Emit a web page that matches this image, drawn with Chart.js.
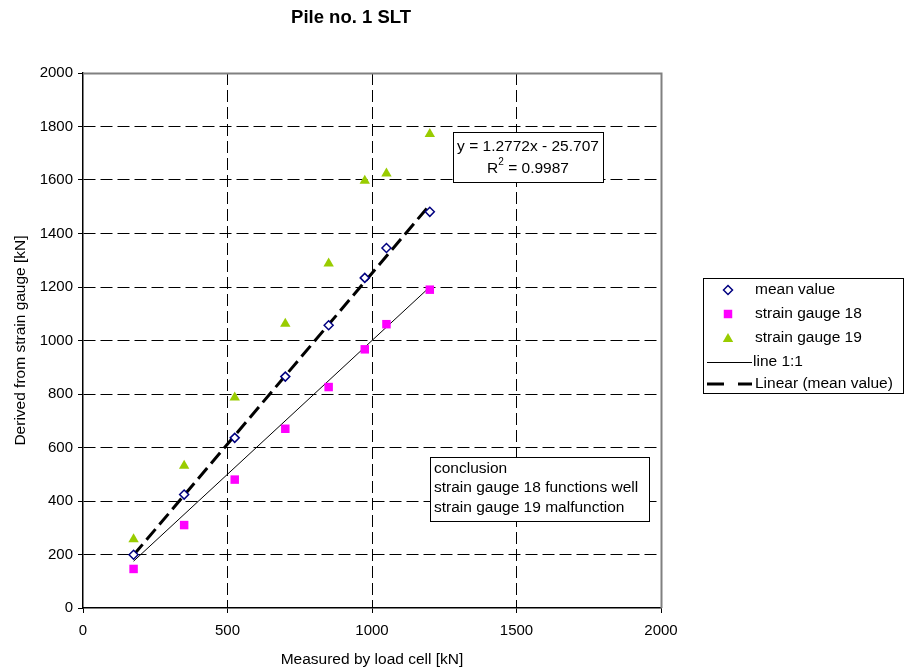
<!DOCTYPE html>
<html lang="en">
<head>
  <meta charset="UTF-8" />
  <title>Pile no. 1 SLT</title>
  <script src="https://cdn.jsdelivr.net/npm/chart.js"></script>
  <style>
    * { margin: 0; padding: 0; box-sizing: border-box; }
    body { background: #fff; width: 907px; height: 671px; overflow: hidden; }
    canvas { display: block; }
  </style>
</head>
<body>
  <canvas id="pileChart" width="907" height="671"></canvas>

  <script>
    // Load steps measured by the load cell [kN]
    const loadCell = [175, 350, 525, 700, 850, 975, 1050, 1200];
    // Forces derived from the strain gauges [kN]
    const meanValue = [199, 424, 636, 865, 1057, 1234, 1346, 1481];
    const gauge18 = [146, 310, 480, 670, 826, 967, 1061, 1190];
    const gauge19 = [257, 532, 787, 1063, 1288, 1597, 1624, 1772];

    // Reference line 1:1 and linear fit of the mean value
    const lineRange = [175, 1200];
    const fitSlope = 1.2772;
    const fitIntercept = -25.707;
    const fitR2 = 0.9987;

    const xTicks = [0, 500, 1000, 1500, 2000];
    const yTicks = [0, 200, 400, 600, 800, 1000, 1200, 1400, 1600, 1800, 2000];

    const seriesNames = ['mean value', 'strain gauge 18', 'strain gauge 19', 'line 1:1', 'Linear (mean value)'];
    const conclusion = ['conclusion', 'strain gauge 18 functions well', 'strain gauge 19 malfunction'];

    const FONT = '"Liberation Sans", Arial, sans-serif';

    const toPoints = (xs, ys) => xs.map((x, i) => ({ x: x, y: ys[i] }));

    const meanStyle = { pointStyle: 'rectRot', radius: 4.5, borderWidth: 1.5, borderColor: '#000080', backgroundColor: '#ffffff', rotation: 0 };
    const g18Style = { pointStyle: 'rect', radius: 6, borderWidth: 0, borderColor: '#ff00ff', backgroundColor: '#ff00ff', rotation: 0 };
    const g19Style = { pointStyle: 'triangle', radius: 6, borderWidth: 0, borderColor: '#99cc00', backgroundColor: '#99cc00', rotation: 0 };

    function text(ctx, str, x, y, opts) {
      ctx.font = (opts.weight || '') + ' ' + opts.size + 'px ' + FONT;
      ctx.fillStyle = '#000';
      ctx.textAlign = opts.align || 'left';
      ctx.textBaseline = opts.baseline || 'middle';
      ctx.fillText(str, x, y);
    }

    function marker(ctx, style, x, y) {
      ctx.fillStyle = style.backgroundColor;
      ctx.strokeStyle = style.borderColor;
      ctx.lineWidth = style.borderWidth;
      Chart.helpers.drawPoint(ctx, style, x, y);
    }

    // Plot frame, titles, annotation boxes and legend
    const decorations = {
      id: 'decorations',
      beforeDatasetsDraw(chart) {
        const { ctx, chartArea: a } = chart;
        ctx.save();
        ctx.strokeStyle = '#808080';
        ctx.lineWidth = 2;
        ctx.beginPath();
        ctx.moveTo(a.left, a.top + 0.5);
        ctx.lineTo(a.right + 0.5, a.top + 0.5);
        ctx.lineTo(a.right + 0.5, a.bottom);
        ctx.stroke();
        ctx.restore();
      },
      afterDraw(chart) {
        const { ctx, chartArea: a } = chart;
        ctx.save();

        text(ctx, 'Pile no. 1 SLT', 351, 23, { size: 18.5, weight: 'bold', align: 'center', baseline: 'alphabetic' });
        text(ctx, 'Measured by load cell [kN]', (a.left + a.right) / 2, 664, { size: 15.5, align: 'center', baseline: 'alphabetic' });

        ctx.save();
        ctx.translate(25, (a.top + a.bottom) / 2);
        ctx.rotate(-Math.PI / 2);
        text(ctx, 'Derived from strain gauge [kN]', 0, 0, { size: 15.5, align: 'center', baseline: 'alphabetic' });
        ctx.restore();

        // trendline equation
        ctx.fillStyle = '#fff';
        ctx.fillRect(453, 132, 150, 50);
        ctx.strokeStyle = '#000';
        ctx.lineWidth = 1;
        ctx.strokeRect(453.5, 132.5, 150, 50);
        const sign = fitIntercept < 0 ? ' - ' : ' + ';
        text(ctx, 'y = ' + fitSlope.toFixed(4) + 'x' + sign + Math.abs(fitIntercept).toFixed(3), 528, 147, { size: 15.5, align: 'center' });
        ctx.font = '15.5px ' + FONT;
        const wR = ctx.measureText('R').width;
        const wRest = ctx.measureText(' = ' + fitR2.toFixed(4)).width;
        ctx.font = '10px ' + FONT;
        const wSup = ctx.measureText('2').width;
        let tx = 528 - (wR + wSup + wRest) / 2;
        text(ctx, 'R', tx, 168.5, { size: 15.5 });
        text(ctx, '2', tx + wR, 162, { size: 10 });
        text(ctx, ' = ' + fitR2.toFixed(4), tx + wR + wSup, 168.5, { size: 15.5 });

        // conclusion note
        ctx.fillStyle = '#fff';
        ctx.fillRect(430, 457, 219, 64);
        ctx.strokeStyle = '#000';
        ctx.lineWidth = 1;
        ctx.strokeRect(430.5, 457.5, 219, 64);
        conclusion.forEach((line, i) => {
          text(ctx, line, 434, 468.5 + i * 19.5, { size: 15.5 });
        });

        // legend
        ctx.fillStyle = '#fff';
        ctx.fillRect(703, 278, 200, 115);
        ctx.strokeStyle = '#000';
        ctx.lineWidth = 1;
        ctx.strokeRect(703.5, 278.5, 200, 115);
        const rows = [290, 314, 338, 362, 384];
        marker(ctx, meanStyle, 728, rows[0]);
        marker(ctx, g18Style, 728, rows[1]);
        marker(ctx, g19Style, 728, rows[2] + 1);
        ctx.strokeStyle = '#000';
        ctx.lineWidth = 1;
        ctx.setLineDash([]);
        ctx.beginPath();
        ctx.moveTo(707, rows[3] + 0.5);
        ctx.lineTo(752, rows[3] + 0.5);
        ctx.stroke();
        ctx.lineWidth = 3;
        ctx.setLineDash([17, 14]);
        ctx.beginPath();
        ctx.moveTo(707, rows[4]);
        ctx.lineTo(752, rows[4]);
        ctx.stroke();
        ctx.setLineDash([]);
        seriesNames.forEach((name, i) => {
          text(ctx, name, i === 3 ? 753 : 755, rows[i], { size: 15.5 });
        });

        ctx.restore();
      }
    };

    const hideEdgeGrid = (c) => (c.tick && (c.tick.value === 0 || c.tick.value === 2000)) ? 'rgba(0,0,0,0)' : '#000';
    const plainNumber = (v) => String(v);

    new Chart(document.getElementById('pileChart').getContext('2d'), {
      type: 'scatter',
      data: {
        datasets: [
          {
            label: seriesNames[0],
            data: toPoints(loadCell, meanValue),
            pointStyle: meanStyle.pointStyle,
            pointRadius: meanStyle.radius,
            pointBorderWidth: meanStyle.borderWidth,
            pointBorderColor: meanStyle.borderColor,
            pointBackgroundColor: meanStyle.backgroundColor
          },
          {
            label: seriesNames[1],
            data: toPoints(loadCell, gauge18),
            pointStyle: g18Style.pointStyle,
            pointRadius: g18Style.radius,
            pointBorderWidth: 0,
            pointBackgroundColor: g18Style.backgroundColor
          },
          {
            label: seriesNames[2],
            data: toPoints(loadCell, gauge19),
            pointStyle: g19Style.pointStyle,
            pointRadius: g19Style.radius,
            pointBorderWidth: 0,
            pointBackgroundColor: g19Style.backgroundColor
          },
          {
            label: seriesNames[3],
            data: toPoints(lineRange, lineRange),
            showLine: true,
            borderColor: '#000',
            borderWidth: 1,
            pointRadius: 0
          },
          {
            label: seriesNames[4],
            data: toPoints(lineRange, lineRange.map(x => fitSlope * x + fitIntercept)),
            showLine: true,
            borderColor: '#000',
            borderWidth: 3,
            borderDash: [14, 6],
            pointRadius: 0
          }
        ]
      },
      options: {
        responsive: false,
        animation: false,
        layout: { padding: { left: 0, top: 73, right: 246, bottom: 0 } },
        plugins: {
          legend: { display: false },
          tooltip: { enabled: false }
        },
        scales: {
          x: {
            type: 'linear',
            min: xTicks[0],
            max: xTicks[xTicks.length - 1],
            afterBuildTicks: (s) => { s.ticks = xTicks.map(v => ({ value: v })); },
            afterFit: (s) => { s.height = 63; },
            ticks: { color: '#000', font: { family: FONT, size: 15 }, padding: 9, callback: plainNumber },
            grid: { color: hideEdgeGrid, tickColor: '#000', tickLength: 5, lineWidth: 1 },
            border: { display: true, color: '#000', width: 1.5, dash: [12, 5] }
          },
          y: {
            type: 'linear',
            min: yTicks[0],
            max: yTicks[yTicks.length - 1],
            afterBuildTicks: (s) => { s.ticks = yTicks.map(v => ({ value: v })); },
            afterFit: (s) => { s.width = 83; },
            ticks: { color: '#000', font: { family: FONT, size: 15 }, padding: 5, callback: plainNumber },
            grid: { color: hideEdgeGrid, tickColor: '#000', tickLength: 5, lineWidth: 1 },
            border: { display: true, color: '#000', width: 1.5, dash: [12, 5] }
          }
        }
      },
      plugins: [decorations]
    });
  </script>
</body>
</html>
